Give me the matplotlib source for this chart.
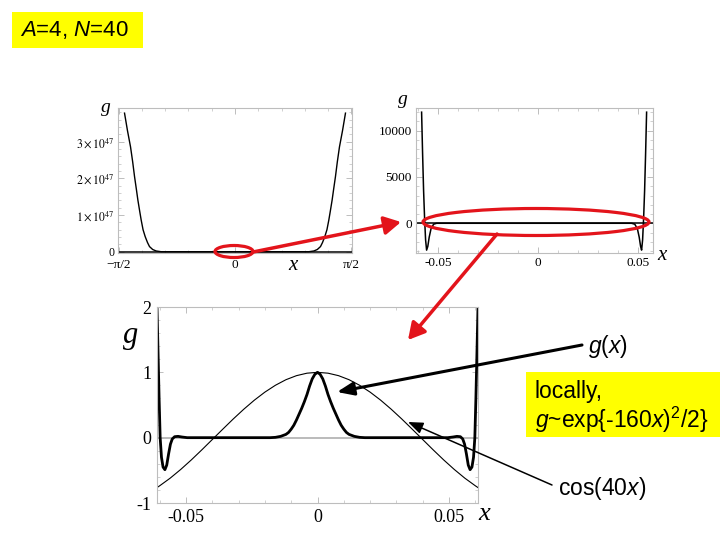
import matplotlib.pyplot as plt
from matplotlib.patches import Ellipse, Rectangle, FancyArrowPatch
from matplotlib.ticker import AutoMinorLocator

plt.rcParams['mathtext.fontset'] = 'custom'
plt.rcParams['mathtext.rm'] = 'Liberation Sans'
plt.rcParams['mathtext.it'] = 'Liberation Sans:italic'

W, H = 720, 540
SERIF = 'Liberation Serif'
SANS = 'Liberation Sans'
RED = '#e3141b'

# top-left panel: g over the whole period, in units of 1e47
tl_x = [-1.490, -1.450, -1.409, -1.380, -1.355, -1.330, -1.310, -1.285, -1.265,
        -1.240, -1.211, -1.180, -1.153, -1.110, -1.063, -0.996,
        0.996, 1.063, 1.110, 1.153, 1.180, 1.211, 1.240, 1.265, 1.285,
        1.310, 1.330, 1.355, 1.380, 1.409, 1.450, 1.490]
tl_g = [3.78, 3.30, 2.86, 2.45, 2.05, 1.70, 1.41, 1.10, 0.86,
        0.60, 0.41, 0.25, 0.14, 0.06, 0.02, 0.0,
        0.0, 0.02, 0.06, 0.14, 0.25, 0.41, 0.60, 0.86, 1.10,
        1.41, 1.70, 2.05, 2.45, 2.86, 3.30, 3.78]
tl_xticks = [-1.5708, 0.0, 1.5708]
tl_xlabels = ['\u2212\u03c0/2', '0', '\u03c0/2']
tl_yticks = [0, 1, 2, 3]
tl_ylabels = ['0', r'$1\times10^{47}$', r'$2\times10^{47}$', r'$3\times10^{47}$']

# top-right panel: zoom near x = 0
tr_x = [-0.0582, -0.0577, -0.0572, -0.0567, -0.0562, -0.0557, -0.0551, -0.0544,
        -0.0535, -0.0522, -0.0507,
        0.0468, 0.0484, 0.0497, 0.0506, 0.0513, 0.0518, 0.0523, 0.0528,
        0.0533, 0.0538, 0.0543]
tr_g = [12000, 7500, 3500, 500, -1800, -2900, -2500, -1500, -600, -100, 0,
        0, -100, -600, -1500, -2500, -2900, -1800, 500, 3500, 7500, 12000]
tr_xticks = [-0.05, 0.0, 0.05]
tr_xlabels = ['-0.05', '0', '0.05']
tr_yticks = [0, 5000, 10000]
tr_ylabels = ['0', '5000', '10000']

# bottom panel: g(x) and cos(40x)
bt_x = [-0.0610, -0.0606, -0.0602, -0.0598, -0.0593, -0.0587, -0.0580, -0.0573,
        -0.0566, -0.0559, -0.0552, -0.0543, -0.0530, -0.0515, -0.0495, -0.0180,
        -0.0160, -0.0140, -0.0120, -0.0110, -0.0100, -0.0090, -0.0080, -0.0070,
        -0.0060, -0.0050, -0.0040, -0.0030, -0.0020, -0.0010, 0.0,
        0.0010, 0.0020, 0.0030, 0.0040, 0.0050, 0.0060, 0.0070, 0.0080, 0.0090,
        0.0100, 0.0110, 0.0120, 0.0140, 0.0160, 0.0180, 0.0495, 0.0515, 0.0530,
        0.0543, 0.0552, 0.0559, 0.0566, 0.0573, 0.0580, 0.0587, 0.0593, 0.0598,
        0.0602, 0.0606, 0.0610]
bt_g = [2.0, 1.3, 0.6, 0.0, -0.30, -0.45, -0.49, -0.42,
        -0.25, -0.10, -0.02, 0.015, 0.02, 0.01, 0.0, 0.0,
        0.005, 0.02, 0.05, 0.08, 0.13, 0.19, 0.27, 0.36,
        0.45, 0.55, 0.66, 0.79, 0.90, 0.97, 1.0,
        0.97, 0.90, 0.79, 0.66, 0.55, 0.45, 0.36, 0.27, 0.19,
        0.13, 0.08, 0.05, 0.02, 0.005, 0.0, 0.0, 0.01, 0.02,
        0.015, -0.02, -0.10, -0.25, -0.42, -0.49, -0.45, -0.30, 0.0,
        0.6, 1.3, 2.0]
cos_x = [-0.061, -0.060, -0.056, -0.052, -0.048, -0.044, -0.040, -0.036, -0.032,
         -0.028, -0.024, -0.020, -0.016, -0.012, -0.008, -0.004, 0.0,
         0.004, 0.008, 0.012, 0.016, 0.020, 0.024, 0.028, 0.032, 0.036,
         0.040, 0.044, 0.048, 0.052, 0.056, 0.060, 0.061]
cos_g = [-0.764, -0.737, -0.620, -0.487, -0.342, -0.188, -0.029, 0.130, 0.287,
         0.436, 0.574, 0.697, 0.802, 0.887, 0.949, 0.987, 1.0,
         0.987, 0.949, 0.887, 0.802, 0.697, 0.574, 0.436, 0.287, 0.130,
         -0.029, -0.188, -0.342, -0.487, -0.620, -0.737, -0.764]
bt_xticks = [-0.05, 0.0, 0.05]
bt_xlabels = ['-0.05', '0', '0.05']
bt_yticks = [-1, 0, 1, 2]
bt_ylabels = ['-1', '0', '1', '2']


def fx(px):
    return px / W


def fy(py):
    return 1 - py / H


def frame(ax, xt, xl, yt, yl, size, xpad, ypad):
    for s in ax.spines.values():
        s.set_color('#bdbdbd')
        s.set_linewidth(0.8)
    ax.set_xticks(xt)
    ax.set_xticklabels(xl, fontfamily=SERIF, fontsize=size)
    ax.set_yticks(yt)
    ax.set_yticklabels(yl, fontfamily=SERIF, fontsize=size)
    ax.xaxis.set_minor_locator(AutoMinorLocator(5))
    ax.yaxis.set_minor_locator(AutoMinorLocator(5))
    ax.tick_params(which='both', direction='in', color='#bdbdbd', top=True, right=True)
    ax.tick_params(axis='x', pad=xpad)
    ax.tick_params(axis='y', pad=ypad)
    ax.tick_params(which='major', length=4, width=0.7)
    ax.tick_params(which='minor', length=2, width=0.5)


fig = plt.figure(figsize=(7.2, 5.4), dpi=100)

# top-left
ax1 = fig.add_axes([fx(118), fy(253), 234 / W, 145 / H])
ax1.axhline(0, color='black', lw=1.1)
ax1.plot(tl_x, tl_g, color='black', lw=1.0)
ax1.set_xlim(-1.578, 1.578)
ax1.set_ylim(-0.035, 3.92)
frame(ax1, tl_xticks, tl_xlabels, tl_yticks, tl_ylabels, 9.5, 4.5, 2.5)
for lab in ax1.get_yticklabels():
    lab.set_math_fontfamily('stix')
    lab.set_fontsize(8.5)

# top-right
ax2 = fig.add_axes([fx(416), fy(253), 237 / W, 145 / H])
ax2.axhline(0, color='black', lw=1.1)
ax2.plot(tr_x, tr_g, color='black', lw=1.1)
ax2.set_xlim(-0.061, 0.0575)
ax2.set_ylim(-3210, 12450)
frame(ax2, tr_xticks, tr_xlabels, tr_yticks, tr_ylabels, 9.5, 3, 3)

# bottom
ax3 = fig.add_axes([fx(157), fy(503), 321 / W, 196 / H])
ax3.axhline(0, color='#b5b5b5', lw=1.3)
ax3.plot(cos_x, cos_g, color='black', lw=0.8)
ax3.plot(bt_x, bt_g, color='black', lw=2.0, solid_joinstyle='round')
ax3.set_xlim(-0.061, 0.061)
ax3.set_ylim(-1, 2)
frame(ax3, bt_xticks, bt_xlabels, bt_yticks, bt_ylabels, 13, 4, 4)

# axis letters
for px, py, s, txt in [(106, 107, 14, 'g'), (403, 99, 14, 'g'), (131, 336, 22, 'g'),
                       (293, 265, 15, 'x'), (662, 255, 15, 'x'), (484, 514, 19, 'x')]:
    fig.text(fx(px), fy(py), txt, fontfamily=SERIF, style='italic', fontsize=s,
             ha='center', va='center')

# yellow boxes
fig.add_artist(Rectangle((fx(12), fy(48)), 131 / W, 36 / H, transform=fig.transFigure,
                         facecolor='#ffff00', edgecolor='none', zorder=0.5))
fig.text(fx(20), fy(30), r'$A$=4, $N$=40', fontfamily=SANS, fontsize=16,
         va='center', ha='left')
fig.add_artist(Rectangle((fx(526), fy(437)), 194 / W, 65 / H, transform=fig.transFigure,
                         facecolor='#ffff00', edgecolor='none', zorder=0.5))
fig.text(fx(535), fy(398), 'locally,', fontfamily=SANS, fontsize=16.5, va='baseline')
fig.text(fx(535), fy(428), r'$g$~exp{-160$x)^{2}$/2}', fontfamily=SANS,
         fontsize=16.5, va='baseline')
fig.text(fx(588), fy(346), r'$g$($x$)', fontfamily=SANS, fontsize=16.5, va='center')
fig.text(fx(558), fy(488), r'cos(40$x$)', fontfamily=SANS, fontsize=16.5, va='center')

# red highlights
fig.add_artist(Ellipse((fx(234), fy(251.5)), 38 / W, 12 / H, transform=fig.transFigure,
                       fill=False, edgecolor=RED, lw=2.3, zorder=3))
fig.add_artist(Ellipse((fx(536), fy(222)), 226 / W, 27 / H, transform=fig.transFigure,
                       fill=False, edgecolor=RED, lw=2.3, zorder=3))


def arrow(p0, p1, color, lw, hl, hw):
    fig.add_artist(FancyArrowPatch((fx(p0[0]), fy(p0[1])), (fx(p1[0]), fy(p1[1])),
                                   transform=fig.transFigure,
                                   arrowstyle=f'-|>,head_length={hl},head_width={hw}',
                                   mutation_scale=10, color=color, lw=lw,
                                   shrinkA=0, shrinkB=0, zorder=3))


arrow((253, 252), (401, 222), RED, 2.5, 1.0, 0.55)
arrow((497, 234), (408, 340), RED, 2.5, 1.0, 0.55)
arrow((582, 345), (337, 392), 'black', 2.2, 1.0, 0.4)
arrow((552, 485), (408, 422), 'black', 1.1, 0.9, 0.35)

fig.savefig('out.png', dpi=100)
